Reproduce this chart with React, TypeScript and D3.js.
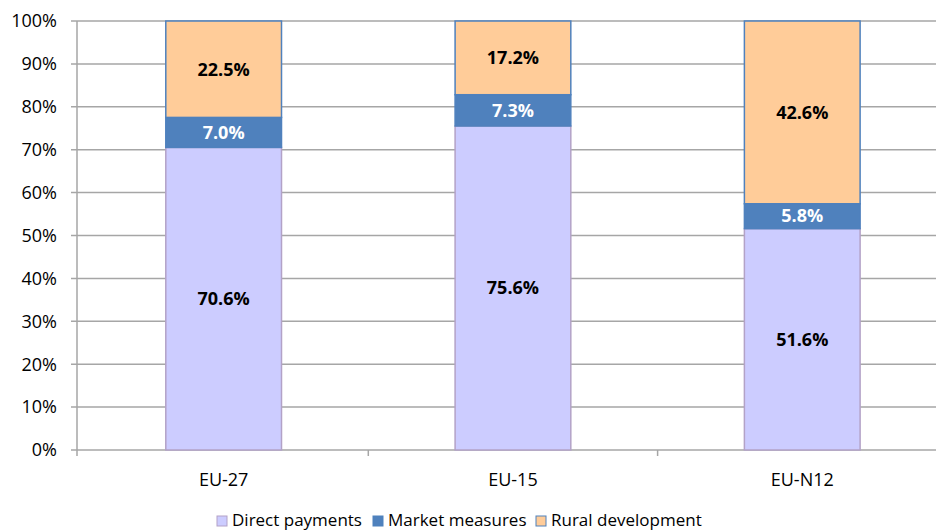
import React from "react";
import * as d3 from "d3";

const categories = ["EU-27", "EU-15", "EU-N12"];
const seriesNames = ["Direct payments", "Market measures", "Rural development"];
const directPayments = [70.6, 75.6, 51.6];
const marketMeasures = [7.0, 7.3, 5.8];
const ruralDevelopment = [22.5, 17.2, 42.6];
const yTicks = [0, 0.1, 0.2, 0.3, 0.4, 0.5, 0.6, 0.7, 0.8, 0.9, 1.0];

const fills = ["#CCCCFF", "#4F81BD", "#FFCC99"];
const strokes = ["#B3A2C7", "#4F81BD", "#4F81BD"];
const labelColors = ["#000000", "#FFFFFF", "#000000"];

const W = 936;
const H = 531;
const left = 77;
const top = 21;
const bottom = 450;
const bandStart = 79;
const bandW = 289.3;
const FONT = "'Open Sans', sans-serif";

export default function App() {
  const series = [directPayments, marketMeasures, ruralDevelopment];
  const rows = categories.map((c, i) => {
    const r: any = { cat: c };
    seriesNames.forEach((s, j) => (r[s] = series[j][i]));
    return r;
  });
  const stacked = d3.stack().keys(seriesNames).offset(d3.stackOffsetExpand)(rows);
  const x = d3
    .scaleBand()
    .domain(categories)
    .range([bandStart, bandStart + bandW * categories.length])
    .paddingInner(0.6)
    .paddingOuter(0.3);
  const xb = d3.scaleBand().domain(categories).range([bandStart, bandStart + bandW * categories.length]);
  const y = d3.scaleLinear().domain([0, 1]).range([bottom, top]);
  const fmt = d3.format(".0%");

  return (
    <svg width={W} height={H} style={{ position: "absolute", left: 0, top: 0 }}>
      <rect width={W} height={H} fill="#fff" />
      {yTicks.map((t) => (
        <g key={t}>
          <line x1={left - 6} x2={W} y1={y(t)} y2={y(t)} stroke="#A6A6A6" strokeWidth={1.5} />
          <text x={57} y={y(t)} dy="0.35em" textAnchor="end" fontFamily={FONT} fontSize={18} fill="#000">
            {fmt(t)}
          </text>
        </g>
      ))}
      <line x1={left} x2={left} y1={top} y2={bottom + 6} stroke="#A6A6A6" strokeWidth={1.5} />
      {categories.slice(1).map((c) => (
        <line key={c} x1={xb(c)!} x2={xb(c)!} y1={bottom} y2={bottom + 6} stroke="#A6A6A6" strokeWidth={1.5} />
      ))}
      {stacked.map((s, j) =>
        s.map((d, i) => {
          const x0 = x(categories[i])!;
          const y0 = y(d[1]);
          const h = y(d[0]) - y(d[1]);
          return (
            <g key={`${j}-${i}`}>
              <rect x={x0} y={y0} width={x.bandwidth()} height={h} fill={fills[j]} stroke={strokes[j]} strokeWidth={1.5} />
              <text
                x={x0 + x.bandwidth() / 2}
                y={y0 + h / 2}
                dy="0.35em"
                textAnchor="middle"
                fontFamily={FONT}
                fontWeight="bold"
                fontSize={18}
                fill={labelColors[j]}
              >
                {series[j][i].toFixed(1)}%
              </text>
            </g>
          );
        })
      )}
      {categories.map((c) => (
        <text key={c} x={x(c)! + x.bandwidth() / 2} y={480} dy="0.35em" textAnchor="middle" fontFamily={FONT} fontSize={18} fill="#000">
          {c}
        </text>
      ))}
      {seriesNames.map((s, j) => {
        const lx = [217, 373, 536][j];
        return (
          <g key={s}>
            <rect x={lx} y={516} width={10} height={10} fill={fills[j]} stroke={strokes[j]} strokeWidth={1} />
            <text x={lx + 15} y={526} fontFamily={FONT} fontSize={17} fill="#000">
              {s}
            </text>
          </g>
        );
      })}
    </svg>
  );
}
